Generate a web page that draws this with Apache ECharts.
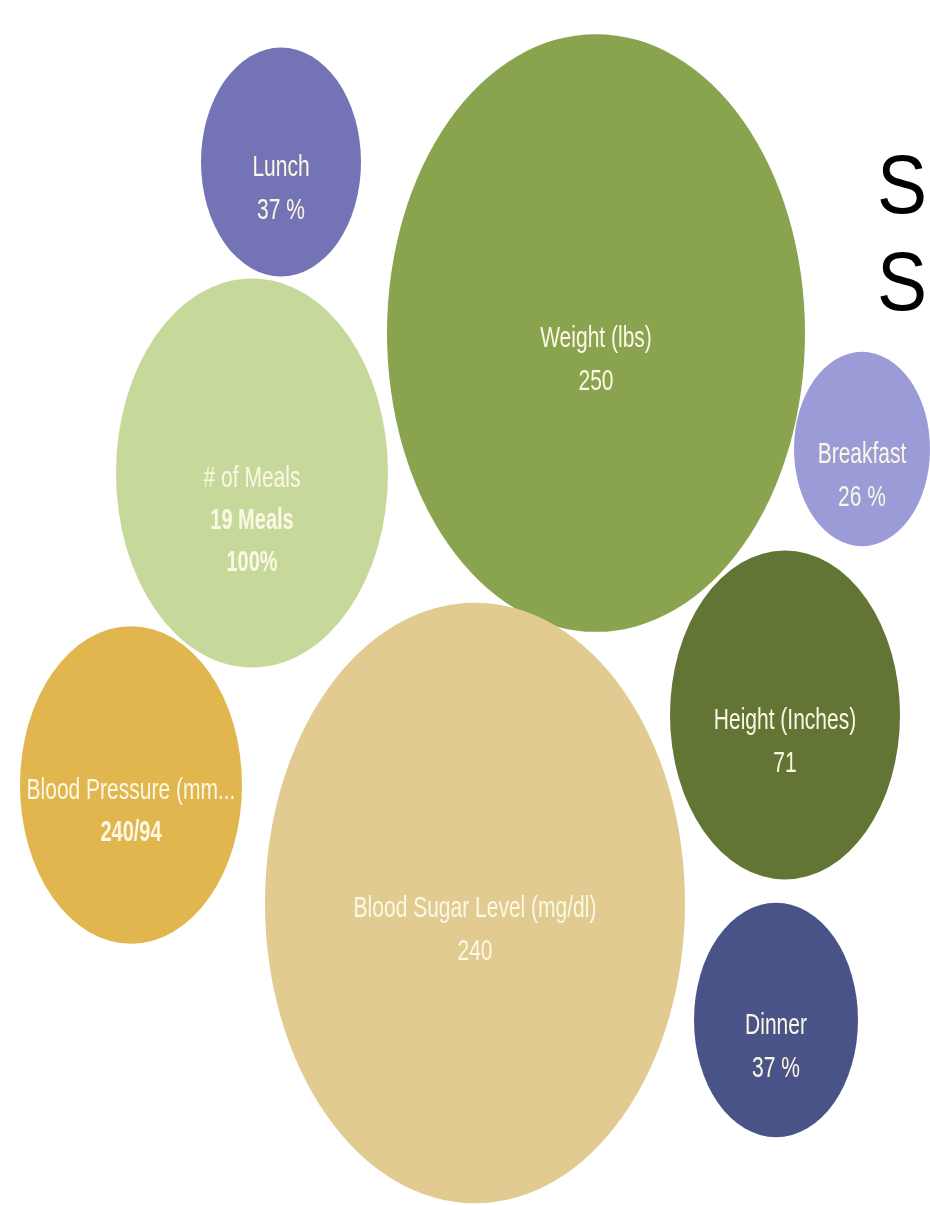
<!DOCTYPE html>
<html>
<head>
<meta charset="utf-8">
<script src="https://cdn.jsdelivr.net/npm/echarts@6/dist/echarts.min.js"></script>
<style>
html,body{margin:0;padding:0;background:#ffffff;}
#main{width:930px;height:1205px;}
</style>
</head>
<body>
<div id="main"></div>
<script>
// ---- data ----
const names = ['Lunch', 'Weight (lbs)', '# of Meals', 'Breakfast', 'Height (Inches)', 'Blood Pressure (mm...', 'Blood Sugar Level (mg/dl)', 'Dinner'];
const valueTexts = ['37 %', '250', '19 Meals\n100%', '26 %', '71', '240/94', '240', '37 %'];
const boldValues = [false, false, true, false, false, true, false, false];
const centerX = [281, 596, 252, 862, 785, 131, 475, 776];
const centerY = [162, 333, 473, 449, 715, 785, 903, 1020];
const diameters = [160, 418, 272, 136, 230, 222, 420, 164];
const colors = ['#7473b5', '#8aa34f', '#c6d99b', '#9b9bd8', '#627535', '#e2b64e', '#e1cb91', '#4a5387'];
const titleLines = ['S', 'S'];

// ---- chart ----
const STRETCH = 1.43;
const TEXT = '#fbf8e4';
const chart = echarts.init(document.getElementById('main'), null, {renderer: 'canvas'});
const seriesData = names.map((n, i) => [centerX[i], centerY[i], diameters[i], i]);

chart.setOption({
  backgroundColor: '#ffffff',
  animation: false,
  grid: {left: 0, right: 0, top: 0, bottom: 0},
  xAxis: {type: 'value', min: 0, max: 930, show: false},
  yAxis: {type: 'value', min: 0, max: 1205, inverse: true, show: false},
  graphic: titleLines.map((t, k) => ({
    type: 'text',
    x: 877,
    y: 190 + k * 97,
    scaleY: 1.1,
    style: {text: t, fontSize: 75, fontFamily: 'Liberation Sans, Arial, sans-serif', fill: '#000000', align: 'left', verticalAlign: 'middle'}
  })),
  series: [{
    type: 'custom',
    silent: true,
    data: seriesData,
    renderItem: function (params, api) {
      const i = api.value(3);
      const c = api.coord([api.value(0), api.value(1)]);
      const r = api.size([api.value(2), 0])[0] / 2;
      return {
        type: 'group',
        x: c[0],
        y: c[1],
        scaleY: STRETCH,
        children: [
          {type: 'circle', shape: {cx: 0, cy: 0, r: r}, style: {fill: colors[i]}},
          {type: 'text', x: 0, y: 4.2, style: {
            text: names[i], fill: TEXT, fontSize: 21, fontFamily: 'Liberation Sans, Arial, sans-serif',
            align: 'center', verticalAlign: 'middle'}},
          {type: 'text', x: 0, y: 19, style: {
            text: valueTexts[i], fill: TEXT, fontSize: boldValues[i] ? 20 : 21,
            fontWeight: boldValues[i] ? 'bold' : 'normal',
            fontFamily: 'Liberation Sans, Arial, sans-serif', lineHeight: 29.5,
            align: 'center', verticalAlign: 'top'}}
        ]
      };
    }
  }]
});
</script>
</body>
</html>
